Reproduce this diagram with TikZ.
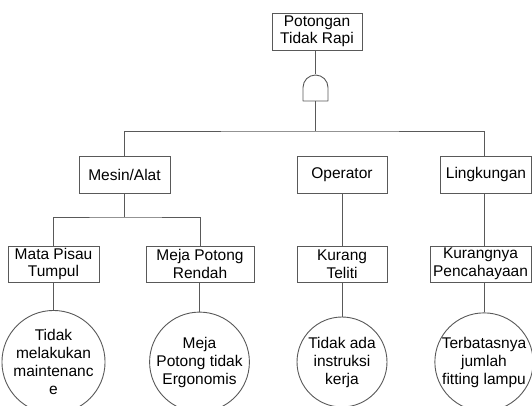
\documentclass[tikz,border=0pt]{standalone}
\usepackage{fontspec}
\setmainfont{Liberation Sans}
\begin{document}
\begin{tikzpicture}[x=1pt,y=-1pt,
  lc/.style={draw=black!65, line width=0.9pt},
  box/.style={lc, fill=white, rectangle, inner sep=0pt, minimum height=37pt, minimum width=91pt, align=center, font=\fontsize{15.5}{17.5}\selectfont},
  circ/.style={lc, fill=white, circle, inner sep=0pt, minimum size=90pt, align=center, font=\fontsize{15.5}{18}\selectfont},
  wire/.style={lc}]
\useasboundingbox (0,0) rectangle (532,405);
% top event
\node[box, minimum width=90pt] (top) at (317,31.5) {Potongan\\Tidak Rapi};
% AND gate
\coordinate (gtop) at (315.5,74);
\coordinate (gbot) at (315.5,101);
\draw[lc, line join=round] (303,101) -- (303,87.5) arc[start angle=180, end angle=0, radius=12.5pt] -- (328,101) -- cycle;
\draw[wire] (top.south -| gtop) -- (gtop);
% level 1
\node[box] (mesin) at (124.5,174.5) {Mesin/Alat};
\node[box, minimum width=90pt] (oper) at (342,174.5) {Operator};
\node[box] (lingk) at (486,174.5) {Lingkungan};
\coordinate (bus) at (315.5,131);
\coordinate (busR) at (484,131);
\draw[wire] (gbot) -- (bus);
\draw[wire] (mesin.north) |- (bus) -- (busR) -- (busR |- lingk.north);
% level 2
\node[box, minimum height=36pt] (mata) at (53.5,264) {Mata Pisau\\Tumpul};
\node[box, minimum height=36pt, minimum width=108pt] (meja) at (200,264) {Meja Potong\\Rendah};
\node[box, minimum height=36pt, minimum width=90pt] (kurang) at (342,264) {Kurang\\Teliti};
\node[box, minimum height=36pt, minimum width=101pt] (kurangnya) at (480.5,264) {Kurangnya\\Pencahayaan};
\coordinate (sub) at (124.5,217);
\draw[wire] (mesin.south) -- (sub);
\draw[wire] (mata.north) |- (sub) -| (meja.north);
\draw[wire] (oper.south) -- (kurang.north);
\draw[wire] (lingk.south -| busR) -- (kurangnya.north -| busR);
% basic events
\node[circ] (c1) at (53.5,362) {Tidak\\melakukan\\maintenanc\\e};
\node[circ] (c2) at (199.5,362) {Meja\\Potong tidak\\Ergonomis};
\node[circ] (c3) at (342,362) {Tidak ada\\instruksi\\kerja};
\node[circ] (c4) at (484,362) {Terbatasnya\\jumlah\\fitting lampu};
\draw[wire] (mata.south) -- (c1.north);
\draw[wire] (meja.south -| c2) -- (c2.north);
\draw[wire] (kurang.south) -- (c3.north);
\draw[wire] (kurangnya.south -| c4) -- (c4.north);
\end{tikzpicture}
\end{document}
